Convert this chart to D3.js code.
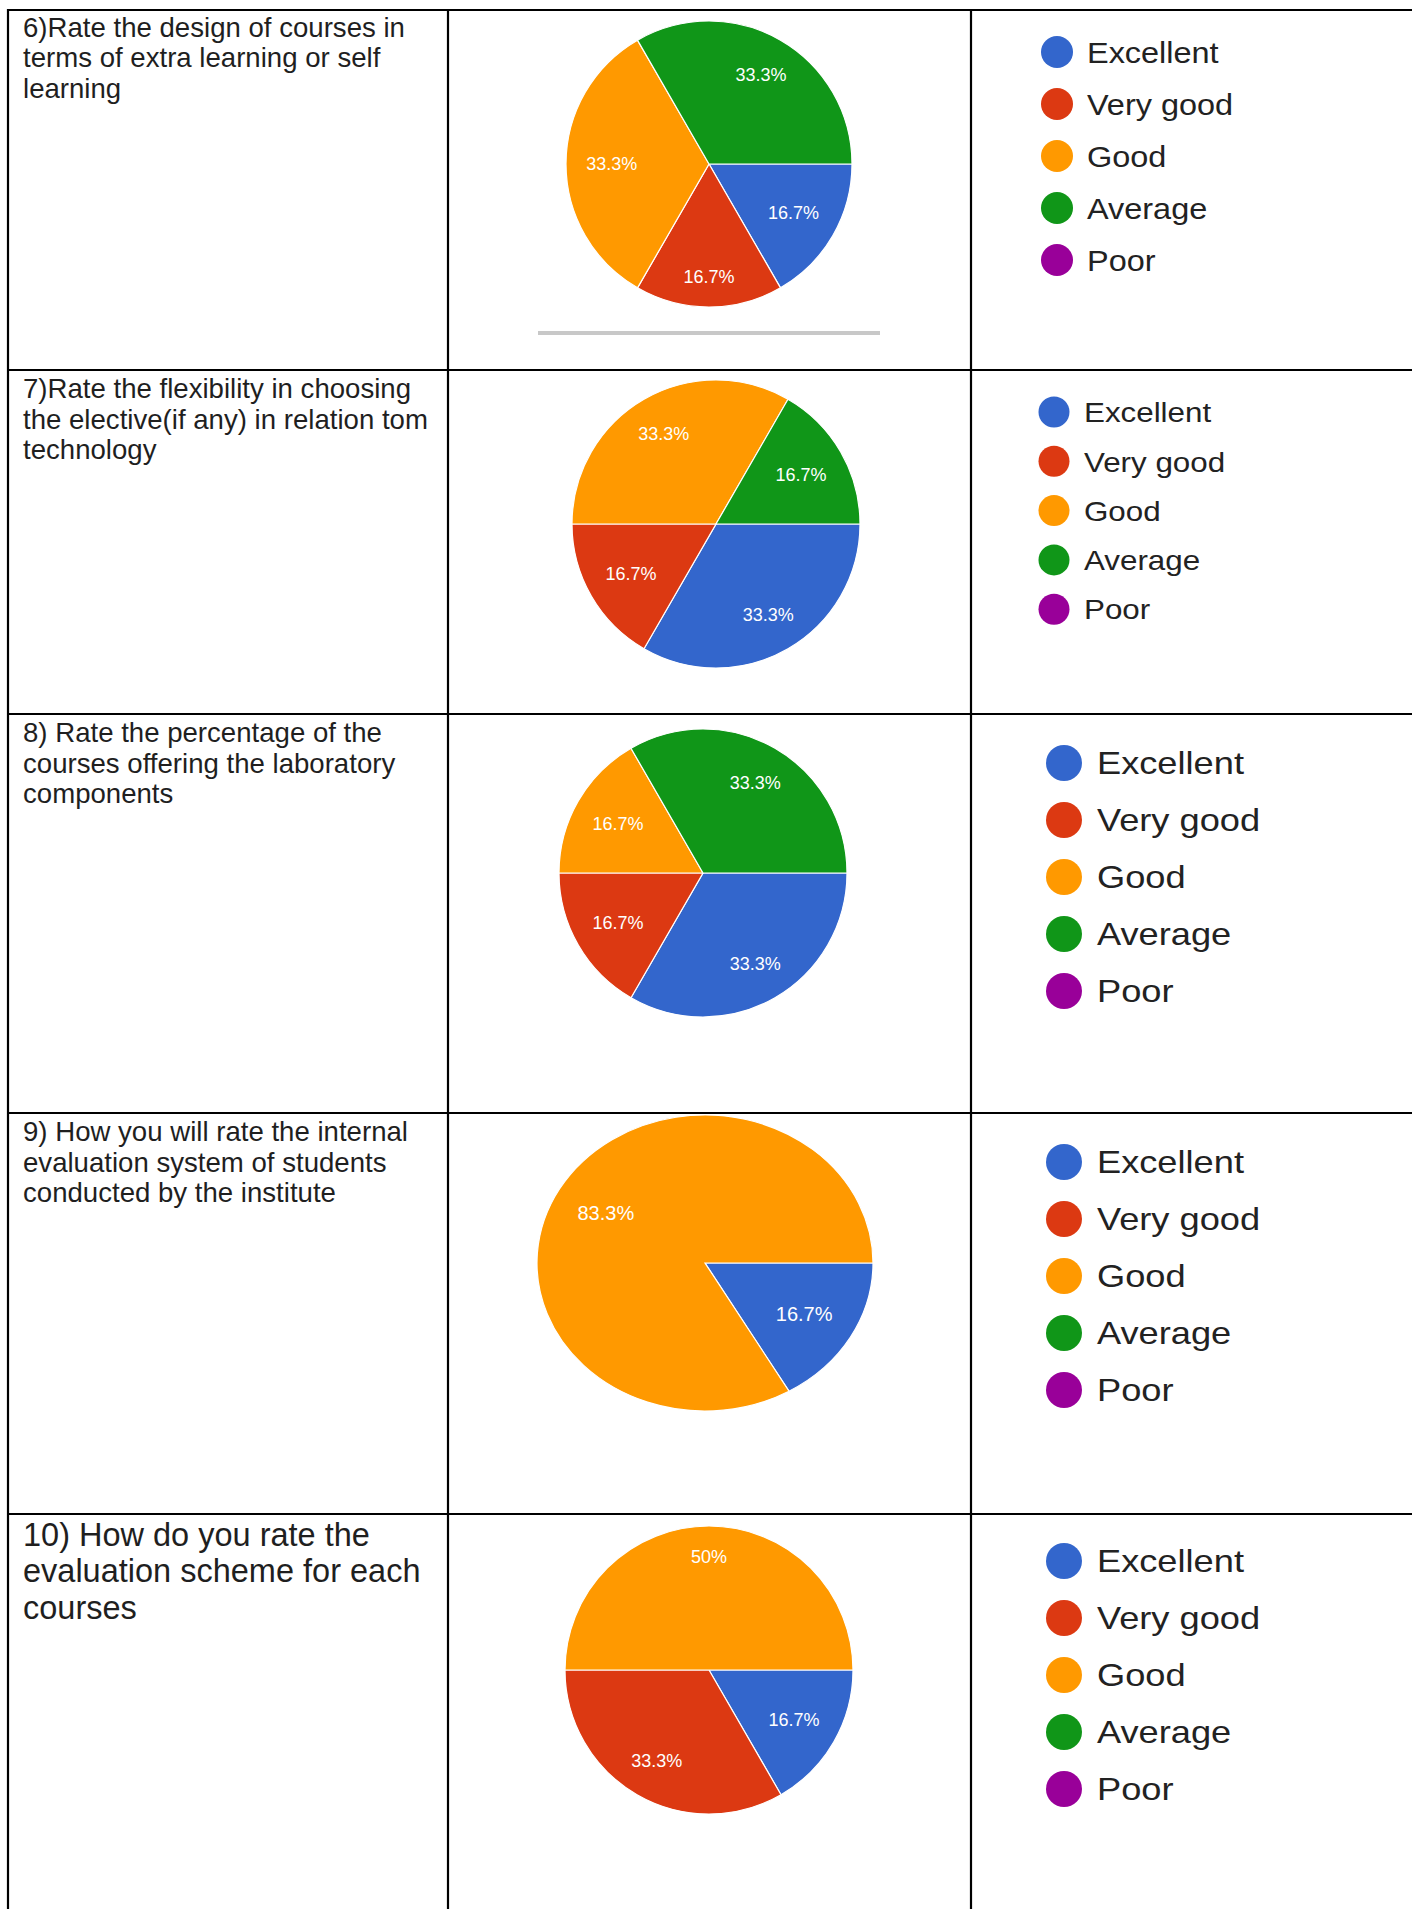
<!DOCTYPE html>
<html>
<head>
<meta charset="utf-8">
<script src="https://cdn.jsdelivr.net/npm/d3@7"></script>
<style>
  html, body { margin: 0; padding: 0; background: #fff; }
  svg { display: block; }
</style>
</head>
<body>
<svg id="chart" width="1412" height="1909"></svg>
<script>
// ---------- DATA ----------
const categories = ["Excellent", "Very good", "Good", "Average", "Poor"];
const colors = ["#3366cc", "#dc3912", "#ff9900", "#109618", "#990099"];

const q6Lines = ["6)Rate the design of courses in", "terms of extra learning or self", "learning"];
const q7Lines = ["7)Rate the flexibility in choosing", "the elective(if any) in relation tom", "technology"];
const q8Lines = ["8) Rate the percentage of the", "courses offering the laboratory", "components"];
const q9Lines = ["9) How you will rate the internal", "evaluation system of students", "conducted by the institute"];
const q10Lines = ["10) How do you rate the", "evaluation scheme for each", "courses"];

// response shares (out of 6 respondents) in category order
const q6Values = [1, 1, 2, 2, 0];
const q7Values = [2, 1, 2, 1, 0];
const q8Values = [2, 1, 1, 2, 0];
const q9Values = [1, 0, 5, 0, 0];
const q10Values = [1, 2, 3, 0, 0];

// ---------- LAYOUT ----------
const svg = d3.select("#chart");
const W = 1412, H = 1909;
const colX = [8, 448, 971];
const rowY = [10, 370, 714, 1113, 1514, H + 5];

const rows = [
  { lines: q6Lines, values: q6Values, fs: 27.6, lh: 30.6, tOff: 26.5,
    pie: { cx: 709, cy: 164, rx: 143, ry: 143, fs: 18 },
    leg: { cx: 1057, cy: 52, step: 52, r: 16, tx: 1087, fs: 29.5, sx: 1.1 } },
  { lines: q7Lines, values: q7Values, fs: 27.6, lh: 30.6, tOff: 28,
    pie: { cx: 716, cy: 524, rx: 144, ry: 144, fs: 18 },
    leg: { cx: 1054, cy: 412, step: 49.3, r: 15.5, tx: 1084, fs: 28.5, sx: 1.1 } },
  { lines: q8Lines, values: q8Values, fs: 27.6, lh: 30.6, tOff: 28,
    pie: { cx: 703, cy: 873, rx: 144, ry: 144, fs: 18 },
    leg: { cx: 1064, cy: 763, step: 57, r: 18, tx: 1097, fs: 31.5, sx: 1.15 } },
  { lines: q9Lines, values: q9Values, fs: 27.6, lh: 30.6, tOff: 28,
    pie: { cx: 705, cy: 1263, rx: 168, ry: 148, fs: 20 },
    leg: { cx: 1064, cy: 1162, step: 57, r: 18, tx: 1097, fs: 31.5, sx: 1.15 } },
  { lines: q10Lines, values: q10Values, fs: 32.5, lh: 36.7, tOff: 31.5,
    pie: { cx: 709, cy: 1670, rx: 144, ry: 144, fs: 18 },
    leg: { cx: 1064, cy: 1561, step: 57, r: 18, tx: 1097, fs: 31.5, sx: 1.15 } }
];

const FONT = "'Liberation Sans', Arial, Helvetica, sans-serif";
const color = d3.scaleOrdinal().domain(categories).range(colors);
const pct = d3.format(".3~r");

const pie = d3.pie().sort(null).value(d => d.v)
  .startAngle(Math.PI / 2).endAngle(Math.PI / 2 + 2 * Math.PI);

rows.forEach((row, i) => {
  const top = rowY[i];

  // question text
  const qt = svg.append("text")
    .attr("font-family", FONT).attr("font-size", row.fs).attr("fill", "#1f1f1f");
  row.lines.forEach((ln, k) => {
    qt.append("tspan").attr("x", 23).attr("y", top + row.tOff + k * row.lh).text(ln);
  });

  // pie
  const p = row.pie;
  const data = categories.map((c, k) => ({ c, v: row.values[k] }));
  const total = d3.sum(row.values);
  const arcs = pie(data);
  const arc = d3.arc().innerRadius(0).outerRadius(p.rx);
  const g = svg.append("g").attr("transform", `translate(${p.cx},${p.cy})`);
  g.append("g").attr("transform", `scale(1,${p.ry / p.rx})`)
    .selectAll("path").data(arcs.filter(a => a.data.v > 0)).join("path")
    .attr("d", arc)
    .attr("fill", a => color(a.data.c))
    .attr("stroke", "#fff").attr("stroke-width", 1.2)
    .attr("vector-effect", "non-scaling-stroke");

  const lblF = m => 0.68 + 0.11 * Math.pow(Math.abs(Math.cos(m)), 6);
  g.selectAll("text.lbl").data(arcs.filter(a => a.data.v > 0)).join("text")
    .attr("class", "lbl")
    .attr("x", a => { const m = (a.startAngle + a.endAngle) / 2; return Math.sin(m) * p.rx * lblF(m); })
    .attr("y", a => { const m = (a.startAngle + a.endAngle) / 2; return -Math.cos(m) * p.ry * lblF(m); })
    .attr("text-anchor", "middle").attr("dy", "0.36em")
    .attr("font-family", FONT).attr("font-size", p.fs)
    .attr("fill", "#fff")
    .text(a => pct(a.data.v / total * 100) + "%");

  // legend
  const L = row.leg;
  const lg = svg.append("g");
  categories.forEach((c, k) => {
    const cy = L.cy + k * L.step;
    lg.append("circle").attr("cx", L.cx).attr("cy", cy).attr("r", L.r).attr("fill", color(c));
    lg.append("text")
      .attr("transform", `translate(${L.tx},${cy + 0.36 * L.fs}) scale(${L.sx},1)`)
      .attr("font-family", FONT).attr("font-size", L.fs).attr("fill", "#222")
      .text(c);
  });
});

// grey scrollbar-like bar under the first pie
svg.append("rect").attr("x", 538).attr("y", 331).attr("width", 342).attr("height", 4)
  .attr("fill", "#c8c8c8");

// table grid
const grid = svg.append("g").attr("stroke", "#000").attr("stroke-width", 2.2);
rowY.slice(0, 5).forEach(y => {
  grid.append("line").attr("x1", colX[0] - 1).attr("x2", W).attr("y1", y).attr("y2", y);
});
colX.forEach(x => {
  grid.append("line").attr("x1", x).attr("x2", x).attr("y1", rowY[0] - 1).attr("y2", H);
});
</script>
</body>
</html>
